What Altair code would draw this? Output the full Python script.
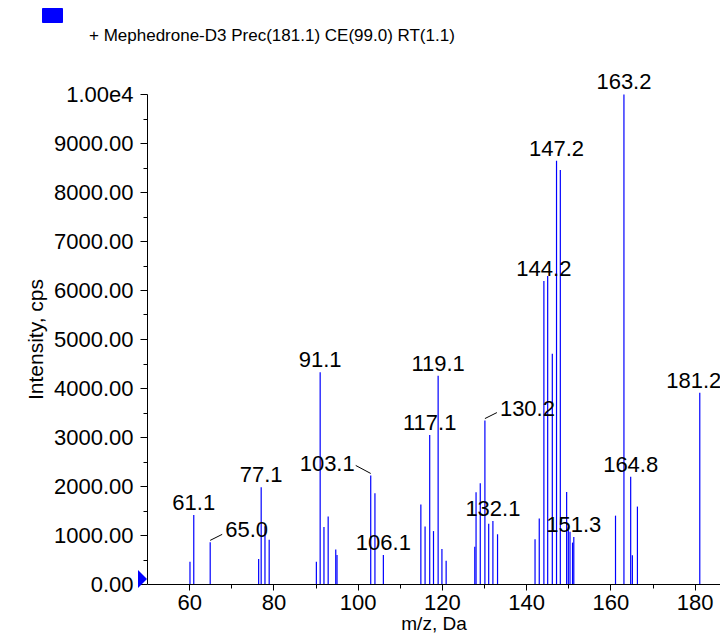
import altair as alt
import pandas as pd

FONT = "Liberation Sans"

# peak list (m/z, intensity in cps)
mz = [60.2, 61.1, 65.0, 76.5, 77.1, 78.0, 79.0,
      90.2, 91.1, 92.0, 93.0, 94.8, 95.1,
      103.1, 104.1, 106.1,
      115.0, 116.0, 117.1, 118.0, 119.1, 120.0, 121.0,
      127.8, 128.1, 129.1, 130.2, 131.1, 132.1, 133.2,
      142.1, 143.1, 144.2, 145.1, 146.2, 147.2, 148.1,
      149.6, 150.0, 150.4, 151.0, 151.3,
      161.2, 163.2, 164.8, 165.2, 166.4, 181.2]
intensity = [455, 1410, 850, 510, 1975, 1180, 905,
             455, 4320, 1165, 1380, 705, 590,
             2215, 1850, 590,
             1620, 1175, 3040, 1080, 4250, 715, 475,
             760, 1870, 2055, 3335, 1230, 1285, 1015,
             915, 1335, 6185, 6285, 4700, 8640, 8450,
             1880, 1170, 1065, 845, 960,
             1395, 9990, 2190, 585, 1580, 3905]

labeled_centered = ["61.1", "77.1", "91.1", "106.1", "117.1", "119.1", "132.1",
                    "144.2", "147.2", "151.3", "163.2", "164.8"]
labeled_edge = ["181.2"]
labeled_right = ["65.0", "130.2"]
labeled_left = ["103.1"]

series_name = "+ Mephedrone-D3 Prec(181.1) CE(99.0) RT(1.1)"

x_major = [60, 80, 100, 120, 140, 160, 180]
x_minor = [70, 90, 110, 130, 150, 170]
y_major = [0, 1000, 2000, 3000, 4000, 5000, 6000, 7000, 8000, 9000, 10000]
y_minor = [500, 1500, 2500, 3500, 4500, 5500, 6500, 7500, 8500, 9500]
x_domain = [50, 186]
y_domain = [0, 10000]

df = pd.DataFrame({"mz": mz, "intensity": intensity})
df["label"] = df["mz"].map(lambda v: f"{v:.1f}")
df["series"] = series_name

lab_c = df[df["label"].isin(labeled_centered)]
lab_e = df[df["label"].isin(labeled_edge)]
lab_r = df[df["label"].isin(labeled_right)]
lab_l = df[df["label"].isin(labeled_left)]
marker = pd.DataFrame({"mz": [x_domain[0]], "intensity": [y_domain[0]]})

xs = alt.Scale(domain=x_domain, nice=False, zero=False)
ys = alt.Scale(domain=y_domain, nice=False)

x_enc = alt.X("mz:Q", scale=xs, axis=None)
y_enc = alt.Y("intensity:Q", scale=ys, axis=None)

bars = alt.Chart(df).mark_rule(strokeWidth=1.2).encode(
    x=alt.X("mz:Q", scale=xs,
            axis=alt.Axis(values=x_major, format="d", title="m/z, Da",
                          tickSize=6, labelPadding=2, titleY=45,
                          titleBaseline="alphabetic", titleFontSize=19,
                          orient="bottom")),
    y=alt.Y("intensity:Q", scale=ys,
            axis=alt.Axis(values=y_major,
                          labelExpr="datum.value >= 10000 ? '1.00e4' : format(datum.value, '.2f')",
                          title="Intensity, cps", tickSize=7, labelPadding=7,
                          titlePadding=7, orient="left")),
    y2=alt.datum(0),
    color=alt.Color("series:N", scale=alt.Scale(range=["#0000ff"]),
                    legend=alt.Legend(title=None, orient="none", legendX=-105, legendY=-69,
                                      symbolType="M-1,-2.7L1,-2.7L1,-1.3L-1,-1.3Z",
                                      symbolSize=400, symbolFillColor="#0000ff",
                                      symbolStrokeColor="#000066", symbolStrokeWidth=1,
                                      symbolOpacity=1,
                                      labelFontSize=17, labelFont=FONT,
                                      labelColor="black",
                                      labelOffset=26, labelLimit=700, padding=0)),
)

minor = alt.Chart(df).mark_rule(opacity=0).encode(
    x=alt.X("mz:Q", scale=xs,
            axis=alt.Axis(values=x_minor, labels=False, domain=False, tickSize=4,
                          title=None, orient="bottom")),
    y=alt.Y("intensity:Q", scale=ys,
            axis=alt.Axis(values=y_minor, labels=False, domain=False, tickSize=4,
                          title=None, orient="left")),
)

txt_c = alt.Chart(lab_c).mark_text(baseline="alphabetic", dy=-5, fontSize=22,
                                   font=FONT, color="black").encode(
    x=x_enc, y=y_enc, text="label:N")
txt_e = alt.Chart(lab_e).mark_text(baseline="alphabetic", dx=-6, dy=-5, fontSize=22,
                                   font=FONT, color="black").encode(
    x=x_enc, y=y_enc, text="label:N")
txt_r = alt.Chart(lab_r).mark_text(baseline="alphabetic", align="left", dx=15, dy=-5,
                                   fontSize=22, font=FONT, color="black").encode(
    x=x_enc, y=y_enc, text="label:N")
txt_l = alt.Chart(lab_l).mark_text(baseline="alphabetic", align="right", dx=-16, dy=-4,
                                   fontSize=22, font=FONT, color="black").encode(
    x=x_enc, y=y_enc, text="label:N")

lead_r = alt.Chart(lab_r).mark_rule(color="black", strokeWidth=1, yOffset=-2,
                                    x2Offset=12, y2Offset=-8).encode(
    x=x_enc, y=y_enc, x2="mz:Q", y2="intensity:Q")
lead_l = alt.Chart(lab_l).mark_rule(color="black", strokeWidth=1, yOffset=-2,
                                    x2Offset=-15, y2Offset=-10).encode(
    x=x_enc, y=y_enc, x2="mz:Q", y2="intensity:Q")

tri = alt.Chart(marker).mark_point(shape="M-0.5,-1L0.5,0L-0.5,1Z", size=324, filled=True,
                                   color="#0000ff", opacity=1, xOffset=-4.5,
                                   yOffset=-5).encode(x=x_enc, y=y_enc)

chart = alt.layer(bars, minor, txt_c, txt_e, txt_r, txt_l, lead_r, lead_l, tri).resolve_axis(
    x="independent", y="independent"
).properties(
    width=573, height=490,
    autosize=alt.AutoSizeParams(type="none"),
    padding={"left": 139, "top": 86, "right": 0, "bottom": 49},
).configure_view(stroke=None).configure_axis(
    labelFont=FONT, titleFont=FONT, labelFontSize=22, titleFontSize=21,
    titleFontWeight="normal", labelColor="black", titleColor="black",
    domainColor="black", tickColor="black", grid=False,
)

chart.save("out.html", embed_options={"renderer": "svg", "actions": False})
